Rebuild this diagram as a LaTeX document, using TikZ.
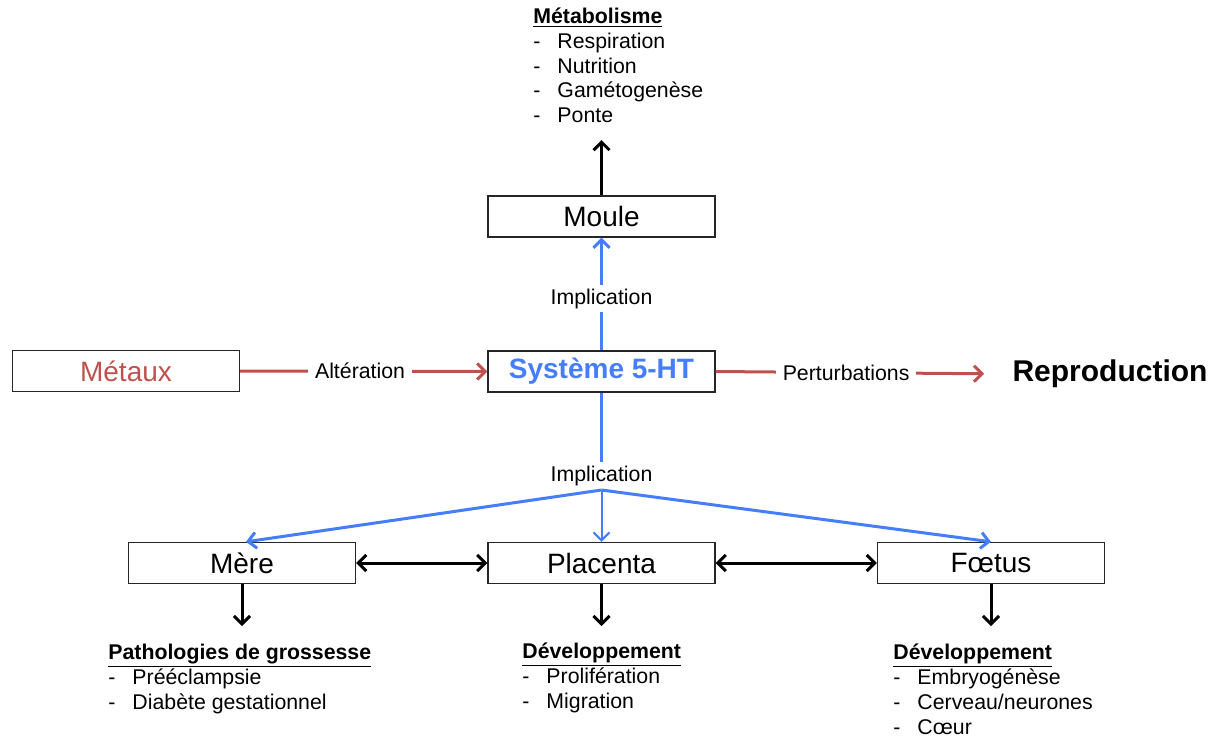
\documentclass[tikz,border=0pt]{standalone}
\usepackage{fontspec}
\setmainfont{Liberation Sans}
\usetikzlibrary{arrows.meta}
\definecolor{hblue}{RGB}{70,125,250}
\definecolor{hred}{RGB}{192,80,77}
\newcommand{\listfont}{\fontsize{10.65}{12.4}\selectfont}
\begin{document}
\begin{tikzpicture}[x=0.5pt,y=-0.5pt,
  box/.style={draw=black!85, line width=0.7pt, minimum width=113.5pt, minimum height=20.5pt, inner sep=0pt, font=\fontsize{14}{16}\selectfont},
  lbl/.style={fill=white, inner sep=3.5pt, font=\listfont},
  tipped/.style={-{Straight Barb[length=4pt,width=8pt]}},
  blk/.style={line width=1.5pt, black, tipped},
  blu/.style={line width=1.5pt, hblue},
  redline/.style={line width=1.5pt, hred},
  lst/.style={anchor=base west, inner sep=0pt, font=\listfont}
]
\useasboundingbox (0,0) rectangle (1217,740);

% boxes
\node[box] (moule) at (601.5,216.5) {Moule};
\node[box, text=hblue, font=\fontsize{14}{16}\selectfont\bfseries] (sys) at (601.5,371.5) {Système 5-HT};
\node[box, text=hred] (met) at (126,371) {Métaux};
\node[box] (mere) at (242,563) {Mère};
\node[box] (plac) at (601.5,563) {Placenta};
\node[box] (foet) at (991,563) {Fœtus};
\node[inner sep=0pt, font=\fontsize{15}{17}\selectfont\bfseries] (repro) at (1110,374) {Reproduction};

% lists
\node[lst] (metab) at (533,23.5) {\begin{tabular}[t]{@{}l@{\hspace{8.5pt}}l@{}}\multicolumn{2}{@{}l@{}}{\textbf{\underline{Métabolisme}}}\\ - & Respiration\\ - & Nutrition\\ - & Gamétogenèse\\ - & Ponte\end{tabular}};
\node[lst] (patho) at (108,659) {\begin{tabular}[t]{@{}l@{\hspace{8.5pt}}l@{}}\multicolumn{2}{@{}l@{}}{\textbf{\underline{Pathologies de grossesse}}}\\ - & Prééclampsie\\ - & Diabète gestationnel\end{tabular}};
\node[lst] (devp) at (522,658) {\begin{tabular}[t]{@{}l@{\hspace{8.5pt}}l@{}}\multicolumn{2}{@{}l@{}}{\textbf{\underline{Développement}}}\\ - & Prolifération\\ - & Migration\end{tabular}};
\node[lst] (devf) at (893,659) {\begin{tabular}[t]{@{}l@{\hspace{8.5pt}}l@{}}\multicolumn{2}{@{}l@{}}{\textbf{\underline{Développement}}}\\ - & Embryogénèse\\ - & Cerveau/neurones\\ - & Cœur\end{tabular}};

% coordinates
\coordinate (mtop) at (601.5,140);
\coordinate (j) at (601.5,490);
\coordinate (mered) at (242,626);
\coordinate (placd) at (601.5,626);
\coordinate (foetd) at (991,626);

% red arrows
\draw[redline, tipped] (met.east) -- node[lbl, text=black, pos=0.485] {Altération} (sys.west);
\draw[redline, tipped, shorten >=14pt] (sys.east) -- node[lbl, text=black, pos=0.44] {Perturbations} (repro.west);

% blue arrows
\draw[blu, tipped] (sys.north) -- node[lbl, text=black, pos=0.46, inner sep=2pt] {Implication} (moule.south);
\draw[blu] (sys.south) -- node[lbl, text=black, pos=0.86, inner sep=2pt] {Implication} (j);
\draw[blu, tipped] (j) -- ([xshift=2pt]mere.north);
\draw[blu, tipped, line width=1pt] (j) -- (plac.north);
\draw[blu, tipped] (j) -- (foet.north);

% black arrows
\draw[blk] (moule.north) -- (mtop);
\draw[line width=1.5pt, {Straight Barb[length=4pt,width=8pt]}-{Straight Barb[length=4pt,width=8pt]}] (mere.east) -- (plac.west);
\draw[line width=1.5pt, {Straight Barb[length=4pt,width=8pt]}-{Straight Barb[length=4pt,width=8pt]}] (plac.east) -- (foet.west);
\draw[blk] (mere.south) -- (mered);
\draw[blk] (plac.south) -- (placd);
\draw[blk] (foet.south) -- (foetd);
\end{tikzpicture}
\end{document}
